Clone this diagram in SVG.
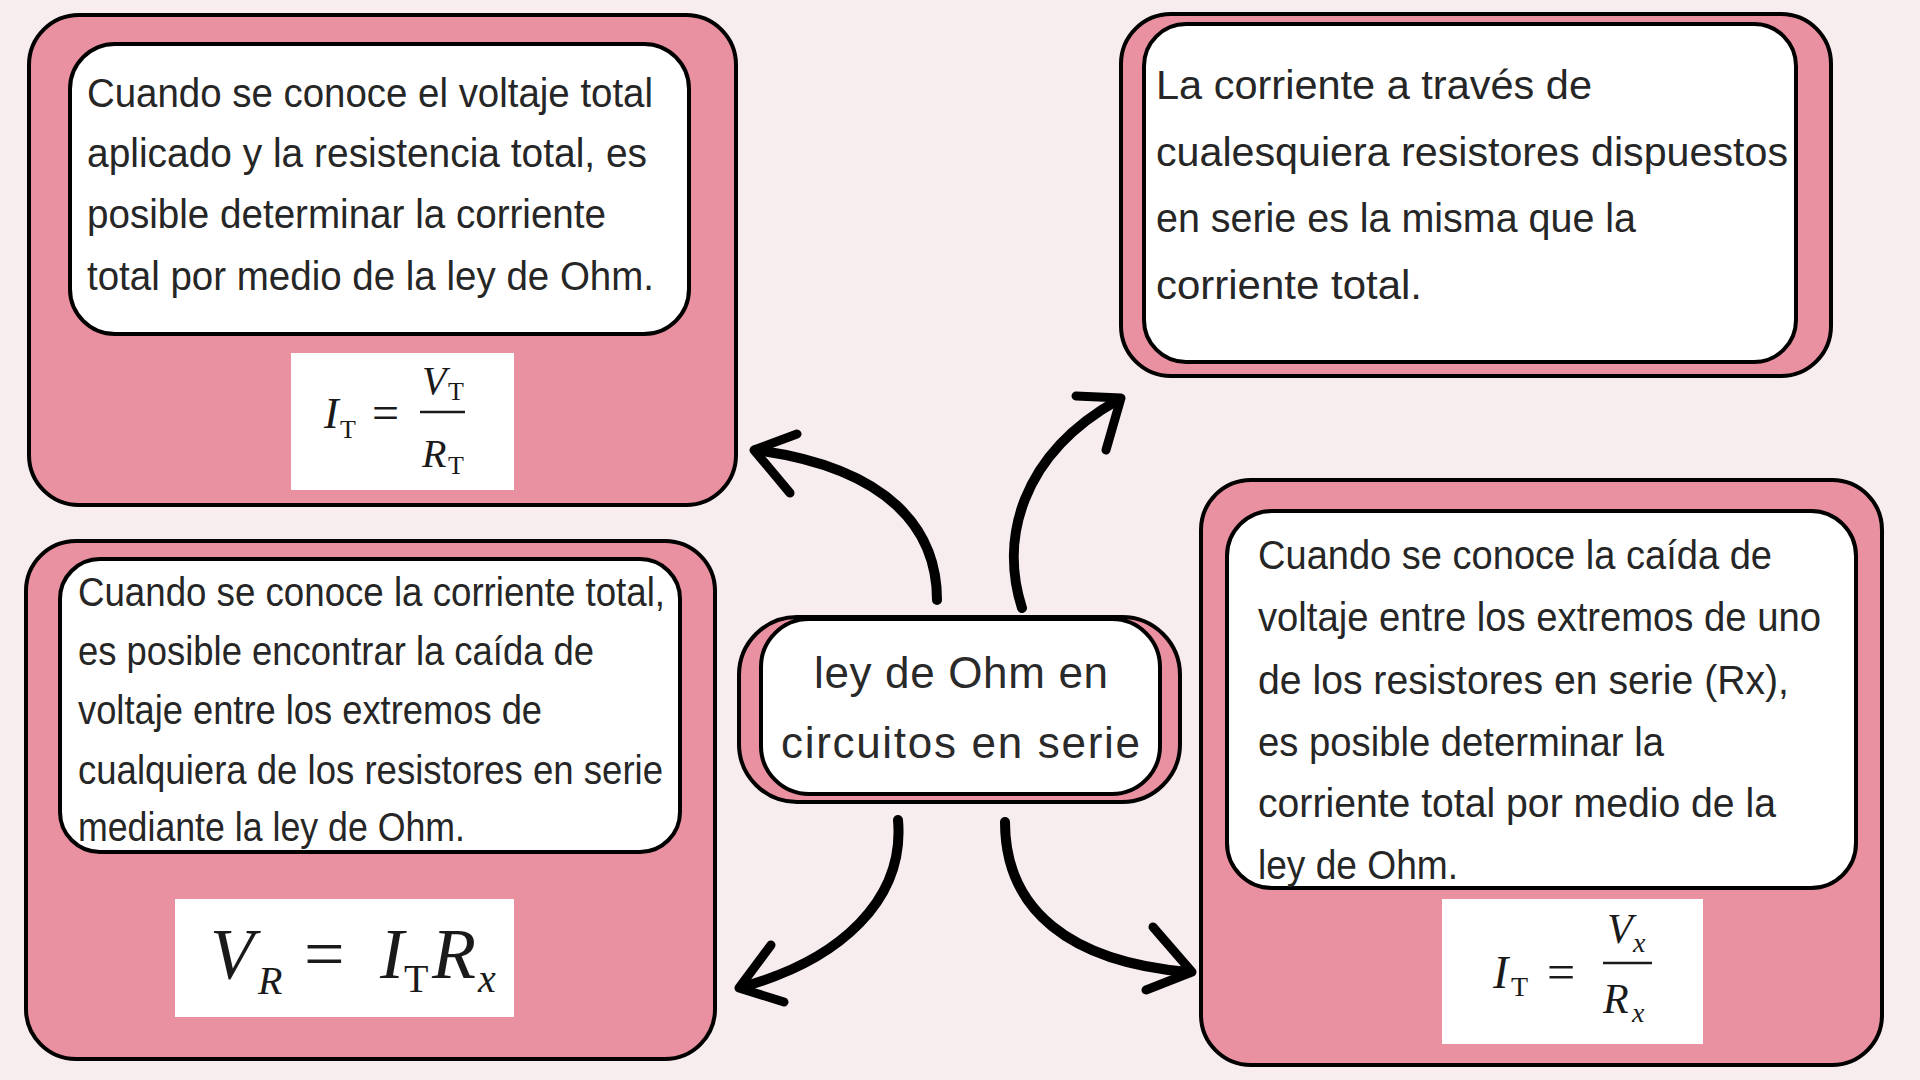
<svg xmlns="http://www.w3.org/2000/svg" width="1920" height="1080" viewBox="0 0 1920 1080">
  <style>
    .outer { fill: #E991A0; stroke: #000; stroke-width: 4; }
    .inner { fill: #FFFFFF; stroke: #000; stroke-width: 4; }
    .body { font-family: "Liberation Sans", "DejaVu Sans", sans-serif; font-size: 41px; fill: #262626; }
    .title { font-family: "Liberation Sans", "DejaVu Sans", sans-serif; font-size: 44px; fill: #2a2a2a; }
    .fbox { fill: #FFFFFF; }
    .mi { font-family: "Liberation Serif", "DejaVu Serif", serif; font-style: italic; fill: #1a1a1a; }
    .mr { font-family: "Liberation Serif", "DejaVu Serif", serif; fill: #1a1a1a; }
    .shaft { fill: none; stroke: #000; stroke-width: 10; stroke-linecap: round; }
    .head { fill: none; stroke: #000; stroke-width: 9; stroke-linecap: round; stroke-linejoin: round; }
  </style>
  <rect x="0" y="0" width="1920" height="1080" fill="#F7ECEE"/>

  <g id="connectors">
    <path class="shaft" d="M 937 600 C 937 530, 890 468, 756 450"/>
    <path class="head" d="M 797 434 L 754 450 L 790 493"/>
    <path class="shaft" d="M 1022 608 C 1000 540, 1020 455, 1118 400"/>
    <path class="head" d="M 1076 396 L 1121 398 L 1106 450"/>
    <path class="shaft" d="M 898 820 C 905 900, 840 960, 742 987"/>
    <path class="head" d="M 771 945 L 739 988 L 784 1002"/>
    <path class="shaft" d="M 1005 822 C 1005 910, 1070 962, 1188 972"/>
    <path class="head" d="M 1153 927 L 1192 972 L 1146 990"/>
  </g>

  <g id="node-center">
    <rect class="outer" x="739" y="617" width="441" height="185" rx="58"/>
    <rect class="inner" x="761" y="619" width="399" height="175" rx="48"/>
    <text class="title" x="814" y="688" textLength="294" lengthAdjust="spacing">ley de Ohm en</text>
    <text class="title" x="781" y="758" textLength="359" lengthAdjust="spacing">circuitos en serie</text>
  </g>

  <g id="node-top-left">
    <rect class="outer" x="29" y="15" width="707" height="490" rx="50"/>
    <rect class="inner" x="70" y="44" width="619" height="290" rx="45"/>
    <text class="body" x="87" y="107" textLength="566" lengthAdjust="spacingAndGlyphs">Cuando se conoce el voltaje total</text>
    <text class="body" x="87" y="167" textLength="560" lengthAdjust="spacingAndGlyphs">aplicado y la resistencia total, es</text>
    <text class="body" x="87" y="228" textLength="519" lengthAdjust="spacingAndGlyphs">posible determinar la corriente</text>
    <text class="body" x="87" y="290" textLength="567" lengthAdjust="spacingAndGlyphs">total por medio de la ley de Ohm.</text>
    <rect class="fbox" x="291" y="353" width="223" height="137"/>
    <text class="mi" x="324" y="428" font-size="44">I</text>
    <text class="mr" x="340" y="438" font-size="26">T</text>
    <text class="mr" x="372" y="429" font-size="48">=</text>
    <line x1="420" y1="412" x2="465" y2="412" stroke="#1a1a1a" stroke-width="2.5"/>
    <text class="mi" x="422" y="394" font-size="40">V</text>
    <text class="mr" x="448" y="400" font-size="26">T</text>
    <text class="mi" x="422" y="467" font-size="40">R</text>
    <text class="mr" x="448" y="474" font-size="26">T</text>
  </g>

  <g id="node-top-right">
    <rect class="outer" x="1121" y="14" width="710" height="362" rx="50"/>
    <rect class="inner" x="1144" y="24" width="652" height="338" rx="42"/>
    <text class="body" x="1156" y="99" textLength="436" lengthAdjust="spacingAndGlyphs">La corriente a través de</text>
    <text class="body" x="1156" y="166" textLength="632" lengthAdjust="spacingAndGlyphs">cualesquiera resistores dispuestos</text>
    <text class="body" x="1156" y="232" textLength="480" lengthAdjust="spacingAndGlyphs">en serie es la misma que la</text>
    <text class="body" x="1156" y="299" textLength="266" lengthAdjust="spacingAndGlyphs">corriente total.</text>
  </g>

  <g id="node-bottom-left">
    <rect class="outer" x="26" y="541" width="689" height="518" rx="50"/>
    <rect class="inner" x="60" y="559" width="620" height="293" rx="40"/>
    <text class="body" x="78" y="606" textLength="587" lengthAdjust="spacingAndGlyphs">Cuando se conoce la corriente total,</text>
    <text class="body" x="78" y="665" textLength="516" lengthAdjust="spacingAndGlyphs">es posible encontrar la caída de</text>
    <text class="body" x="78" y="724" textLength="464" lengthAdjust="spacingAndGlyphs">voltaje entre los extremos de</text>
    <text class="body" x="78" y="784" textLength="585" lengthAdjust="spacingAndGlyphs">cualquiera de los resistores en serie</text>
    <text class="body" x="78" y="841" textLength="387" lengthAdjust="spacingAndGlyphs">mediante la ley de Ohm.</text>
    <rect class="fbox" x="175" y="899" width="339" height="118"/>
    <text class="mi" x="210" y="978" font-size="72">V</text>
    <text class="mi" x="258" y="994" font-size="40">R</text>
    <text class="mr" x="304" y="978" font-size="72">=</text>
    <text class="mi" x="380" y="978" font-size="72">I</text>
    <text class="mr" x="404" y="992" font-size="40">T</text>
    <text class="mi" x="432" y="978" font-size="72">R</text>
    <text class="mi" x="478" y="992" font-size="40">x</text>
  </g>

  <g id="node-bottom-right">
    <rect class="outer" x="1201" y="480" width="681" height="585" rx="50"/>
    <rect class="inner" x="1227" y="511" width="629" height="377" rx="45"/>
    <text class="body" x="1258" y="569" textLength="514" lengthAdjust="spacingAndGlyphs">Cuando se conoce la caída de</text>
    <text class="body" x="1258" y="631" textLength="563" lengthAdjust="spacingAndGlyphs">voltaje entre los extremos de uno</text>
    <text class="body" x="1258" y="694" textLength="531" lengthAdjust="spacingAndGlyphs">de los resistores en serie (Rx),</text>
    <text class="body" x="1258" y="756" textLength="406" lengthAdjust="spacingAndGlyphs">es posible determinar la</text>
    <text class="body" x="1258" y="817" textLength="518" lengthAdjust="spacingAndGlyphs">corriente total por medio de la</text>
    <text class="body" x="1258" y="879" textLength="200" lengthAdjust="spacingAndGlyphs">ley de Ohm.</text>
    <rect class="fbox" x="1442" y="899" width="261" height="145"/>
    <text class="mi" x="1493" y="988" font-size="46">I</text>
    <text class="mr" x="1511" y="996" font-size="28">T</text>
    <text class="mr" x="1547" y="989" font-size="50">=</text>
    <line x1="1603" y1="963" x2="1652" y2="963" stroke="#1a1a1a" stroke-width="2.5"/>
    <text class="mi" x="1607" y="943" font-size="42">V</text>
    <text class="mi" x="1633" y="952" font-size="28">x</text>
    <text class="mi" x="1603" y="1013" font-size="42">R</text>
    <text class="mi" x="1632" y="1022" font-size="28">x</text>
  </g>
</svg>
